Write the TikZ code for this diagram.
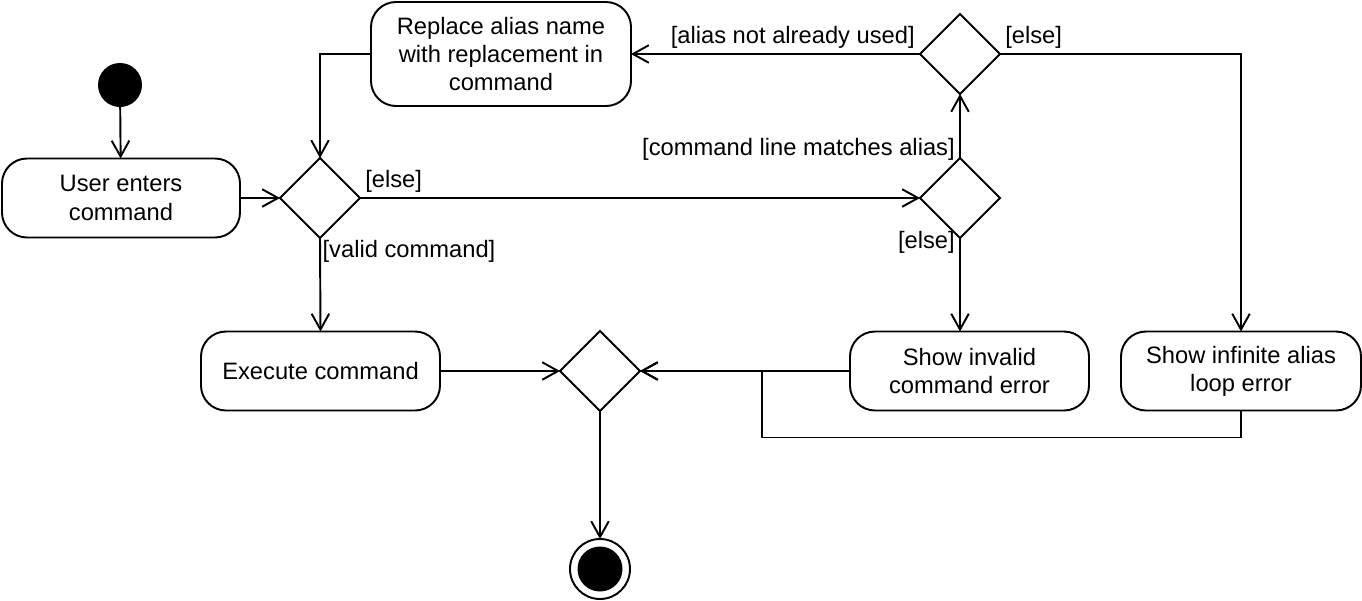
\documentclass[tikz,border=0pt]{standalone}
\usepackage{fontspec}
\setmainfont{Liberation Sans}
\usepackage{tikz}
\usetikzlibrary{arrows.meta, positioning, shapes.geometric}

\begin{document}
\begin{tikzpicture}[font=\fontsize{13.5}{16}\selectfont, line width=1.1pt,
  every node/.style={outer sep=0pt},
  action/.style={draw, rounded corners=0.5cm, align=center, minimum height=1.58cm, minimum width=4.78cm},
  decision/.style={draw, diamond, minimum width=1.6cm, minimum height=1.6cm, inner sep=0pt},
  flow/.style={-{Straight Barb[length=9pt, width=10pt]}},
  guard/.style={inner sep=3pt}]
  \useasboundingbox (0,0) rectangle (27.24,-12);

  \node[circle, fill=black, minimum size=0.88cm, inner sep=0pt] (start) at (2.4, -1.7) {};
  \node[action, minimum width=4.76cm] (user) at (2.42, -3.96) {User enters\\command};
  \node[decision] (valid) at (6.4, -3.96) {};
  \node[action, minimum width=5.2cm, minimum height=2.08cm] (replace) at (10.02, -1.08) {Replace alias name\\with replacement in\\command};
  \node[decision] (used) at (19.2, -1.08) {};
  \node[decision] (match) at (19.2, -3.96) {};
  \node[action] (execute) at (6.41, -7.42) {Execute command};
  \node[decision] (merge) at (12.0, -7.42) {};
  \node[action] (invalid) at (19.39, -7.42) {Show invalid\\command error};
  \node[action, minimum width=4.8cm] (loop) at (24.82, -7.42) {Show infinite alias\\loop error};
  \node[circle, draw, minimum size=1.2cm, inner sep=0pt] (final) at (12.0, -11.38) {};
  \fill (final.center) circle (0.45);
  \coordinate (join) at (15.24, -7.42);

  \draw[flow] (start) -- (user);
  \draw[flow] (user) -- (valid);
  \draw[flow] (valid.east) -- node[pos=0, above right, guard] {[else]} (match.west);
  \draw[flow] (valid.south) -- node[pos=0, below right, inner sep=1.5pt] {[valid command]} (execute.north);
  \draw[flow] (match.north) -- node[pos=0.14, left, guard] {[command line matches alias]} (used.south);
  \draw[flow] (match.south) -- node[pos=0.05, left, guard] {[else]} (match.south |- invalid.north);
  \draw[flow] (used.west) -- node[pos=0, above left, guard] {[alias not already used]} (replace.east);
  \draw[flow] (used.east) -| node[pos=0, above right, guard] {[else]} (loop.north);
  \draw[flow] (replace.west) -| (valid.north);
  \draw[flow] (execute) -- (merge);
  \draw[flow] (invalid) -- (merge);
  \draw[flow] (loop.south) -- ++(0,-0.54) -| (join) -- (merge.east);
  \draw[flow] (merge) -- (final);
\end{tikzpicture}
\end{document}
